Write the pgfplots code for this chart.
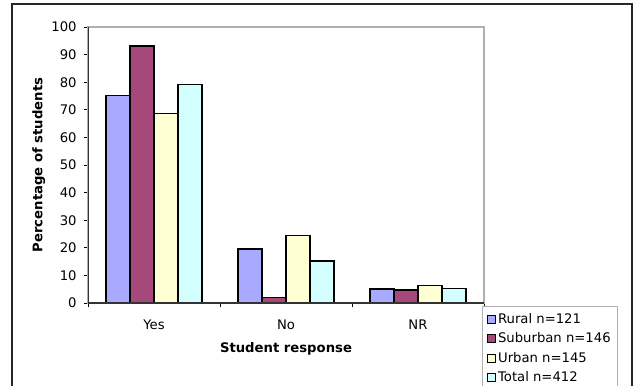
\documentclass[border=0pt]{standalone}
\usepackage{pgfplots}
\pgfplotsset{compat=1.18}
\usepackage{fontspec}
\setmainfont{DejaVu Sans}
\definecolor{rural}{HTML}{A9A9FF}
\definecolor{suburban}{HTML}{A6497A}
\definecolor{urban}{HTML}{FFFFD4}
\definecolor{total}{HTML}{D4FFFF}
\definecolor{boxgray}{HTML}{B0B0B0}
\begin{document}
\begin{tikzpicture}
\path[use as bounding box] (0,0) rectangle (475.5pt,288.75pt);
\draw[line width=1.1pt,black!85] (9pt,-5pt) -- (9pt,285.75pt) -- (474pt,285.75pt) -- (474pt,-5pt);
\begin{axis}[
  at={(66pt,61.5pt)}, anchor=south west,
  scale only axis, width=297pt, height=207pt,
  font=\fontsize{9.9}{12}\selectfont,
  /pgf/number format/assume math mode=true,
  xmin=-0.5, xmax=2.5, ymin=0, ymax=100,
  ytick={0,10,...,100},
  xtick={-0.5,0.5,1.5,2.5}, xticklabels={},
  extra x ticks={0,1,2}, extra x tick labels={Yes,No,NR},
  extra x tick style={major tick length=0pt},
  xtick pos=bottom, ytick pos=left,
  xticklabel style={yshift=-9pt},
  yticklabel style={xshift=-2pt},
  tick align=outside, major tick length=3pt,
  tick style={black, line width=0.6pt},
  axis line style={boxgray, line width=0.9pt},
  ylabel={\bfseries Percentage of students},
  xlabel={\bfseries Student response},
  ylabel style={at={(axis description cs:-0.124,0.5)}, anchor=center},
  xlabel style={at={(axis description cs:0.5,-0.165)}, anchor=center},
  ybar, bar width=0.1818,
  every axis plot/.append style={draw=black, line width=0.9pt},
  legend style={at={(axis description cs:0.995,-0.011)}, anchor=north west,
    draw=boxgray, line width=0.9pt, fill=white, font=\fontsize{9.9}{12}\selectfont,
    cells={anchor=west}, row sep=1.6pt, inner xsep=3pt, inner ysep=3pt},
  legend image code/.code={\draw[#1, draw=black, line width=0.6pt] (0pt,-3pt) rectangle (6pt,3pt);},
]
\addplot[fill=rural, bar shift=-0.2727] coordinates {(0,75.2) (1,19.6) (2,5.1)};
\addplot[fill=suburban, bar shift=-0.0909] coordinates {(0,93.1) (1,2.0) (2,4.7)};
\addplot[fill=urban, bar shift=0.0909] coordinates {(0,68.8) (1,24.6) (2,6.2)};
\addplot[fill=total, bar shift=0.2727] coordinates {(0,79.3) (1,15.2) (2,5.3)};
\legend{Rural n=121, Suburban n=146, Urban n=145, Total n=412}
\draw[black!80, line width=0.9pt] (rel axis cs:0,1) -- (rel axis cs:0,0) -- (rel axis cs:1,0);
\end{axis}
\end{tikzpicture}
\end{document}
